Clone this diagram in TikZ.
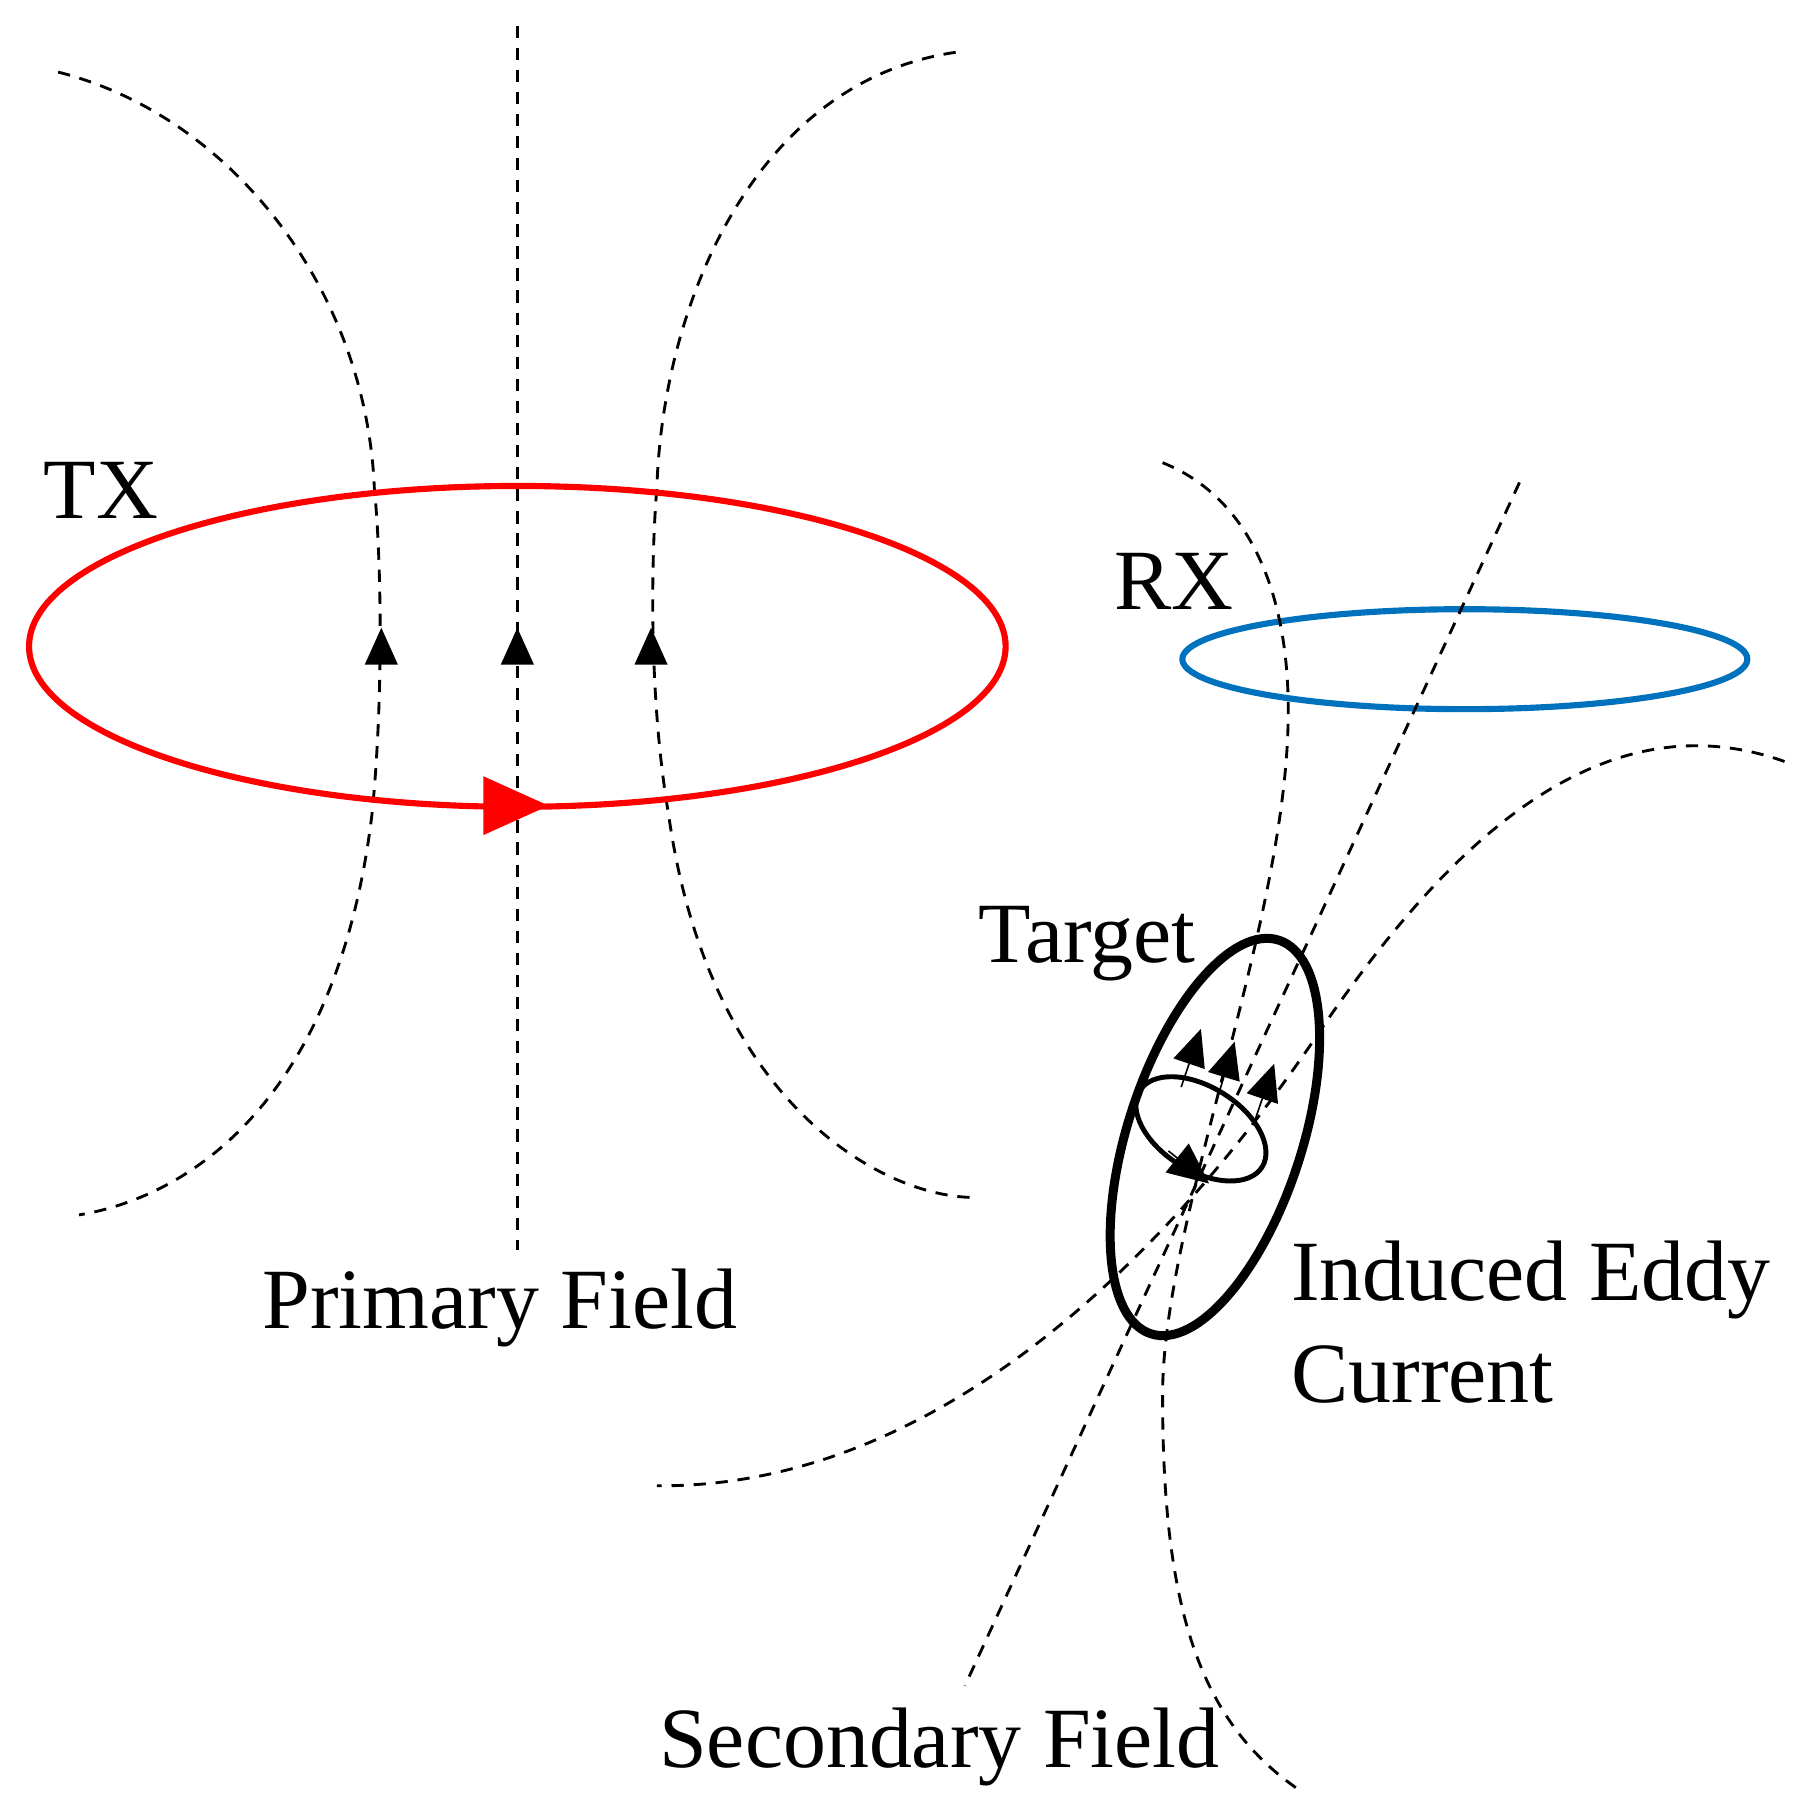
\documentclass[tikz,border=0pt]{standalone}
\usepackage{fontspec}
\setmainfont{Liberation Serif}
\usetikzlibrary{arrows.meta}
\definecolor{rxblue}{RGB}{0,114,189}
\begin{document}
\begin{tikzpicture}[x=0.01cm,y=-0.01cm,
  fl/.style={line width=0.7pt,dash pattern=on 3pt off 2.4pt},
  lbl/.style={font=\fontsize{21}{25}\selectfont,inner sep=0pt},
  up/.style={-{Triangle[length=9pt,width=8pt]}},
]
\useasboundingbox (0,0) rectangle (1550,1546);
% primary field lines
\draw[fl] (50,62) .. controls (200,100) and (315,250) .. (322,420) .. controls (328,480) and (330,600) .. (320,700) .. controls (290,950) and (160,1030) .. (68,1045);
\draw[fl] (822,45) .. controls (650,70) and (570,260) .. (565,420) .. controls (560,480) and (558,600) .. (575,700) .. controls (610,950) and (760,1030) .. (838,1030);
\draw[fl] (445,22) -- (445,1075);
\coordinate (a1) at (328,565); \coordinate (a1t) at (328,540);
\coordinate (a2) at (445,565); \coordinate (a2t) at (445,540);
\coordinate (a3) at (560,565); \coordinate (a3t) at (560,540);
\draw[up] (a1) -- (a1t);
\draw[up] (a2) -- (a2t);
\draw[up] (a3) -- (a3t);
% TX
\draw[red,line width=1.5pt] (445,556) ellipse [x radius=420,y radius=138];
\coordinate (r1) at (420,693); \coordinate (r2) at (472,693);
\draw[red,line width=1.5pt,-{Triangle[length=16pt,width=14pt]}] (r1) -- (r2);
\node[lbl] (txl) at (87,422) {TX};
\node[lbl] (pf) at (430,1125) {Primary Field};
% RX
\draw[rxblue,line width=1.5pt] (1260,567) ellipse [x radius=243,y radius=43];
\node[lbl] (rxl) at (1010,500) {RX};
% secondary field lines
\draw[fl] (1000,398) .. controls (1080,430) and (1110,520) .. (1108,620) .. controls (1105,800) and (1000,1050) .. (1000,1200) .. controls (1000,1380) and (1030,1480) .. (1118,1540);
\draw[fl] (1307,415) -- (830,1450);
\draw[fl] (1535,655) .. controls (1380,600) and (1250,720) .. (1140,880) .. controls (1000,1090) and (800,1280) .. (565,1278);
% target
\draw[line width=2.2pt,rotate around={72:(1045,978)}] (1045,978) ellipse [x radius=178,y radius=75];
\draw[line width=1.2pt,rotate around={-32:(1033,971)}] (1033,971) ellipse [x radius=62,y radius=36];
\coordinate (t1) at (1016,935); \coordinate (t1t) at (1033,885);
\coordinate (t2) at (1047,945); \coordinate (t2t) at (1062,896);
\coordinate (t3) at (1080,962); \coordinate (t3t) at (1096,915);
\draw[up] (t1) -- (t1t);
\draw[up] (t2) -- (t2t);
\draw[up] (t3) -- (t3t);
\coordinate (c1) at (1005,990); \coordinate (c2) at (1040,1018);
\draw[-{Triangle[length=10pt,width=9pt]}] (c1) -- (c2);
\node[lbl] (tg) at (935,812) {Target};
\node[lbl,anchor=west,align=left] (ie) at (1110,1137) {Induced Eddy\\Current};
\node[lbl] (sf) at (808,1503) {Secondary Field};
\end{tikzpicture}
\end{document}
